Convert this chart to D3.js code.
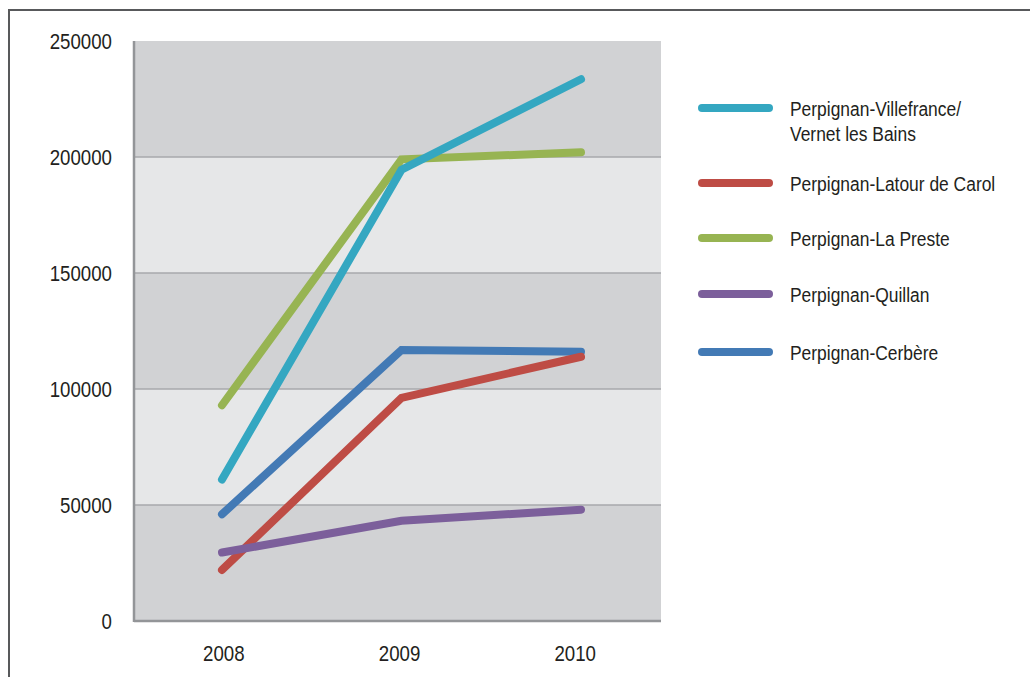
<!DOCTYPE html>
<html><head><meta charset="utf-8">
<script src="https://cdn.jsdelivr.net/npm/d3@7"></script>
<style>
html,body{margin:0;padding:0;background:#fff;}
svg{display:block;}
text{font-family:"Liberation Sans",Arial,sans-serif;fill:#231f20;}
</style></head>
<body>
<svg id="chart" width="1030" height="677"></svg>
<script>
const years = ["2008", "2009", "2010"];
const seriesNames = [
  "Perpignan-Villefrance/\nVernet les Bains",
  "Perpignan-Latour de Carol",
  "Perpignan-La Preste",
  "Perpignan-Quillan",
  "Perpignan-Cerbère"
];
const villefrance = [61000, 194500, 233500];
const latour = [22000, 96200, 113900];
const laPreste = [93000, 199000, 202000];
const quillan = [29500, 43200, 48000];
const cerbere = [46000, 116800, 116100];
const seriesValues = [villefrance, latour, laPreste, quillan, cerbere];
const seriesColors = ["#34a7c1", "#be4c45", "#97b452", "#7c5f9b", "#437ab5"];
const drawOrder = [4, 2, 1, 3, 0];
const yTicks = [0, 50000, 100000, 150000, 200000, 250000];

const NARROW = 0.83;
const svg = d3.select("#chart");

// outer frame (only top and left edges visible)
svg.append("rect").attr("x", 9).attr("y", 10).attr("width", 1100).attr("height", 700)
  .attr("fill", "none").attr("stroke", "#58595b").attr("stroke-width", 2);

const plot = {left: 134, right: 661, top: 41, bottom: 621};
const y = d3.scaleLinear().domain([0, 250000]).range([plot.bottom, plot.top]);
const x = d3.scalePoint().domain(years).range([222, 581]);
const xBand = d3.scaleBand().domain(years).range([plot.left, plot.right]);

// alternating bands
const bands = d3.pairs(yTicks);
svg.append("g").selectAll("rect").data(bands).join("rect")
  .attr("x", plot.left).attr("width", plot.right - plot.left)
  .attr("y", d => y(d[1])).attr("height", d => y(d[0]) - y(d[1]))
  .attr("fill", (d, i) => i % 2 === 0 ? "#d1d2d4" : "#e6e7e8");

// gridlines
svg.append("g").selectAll("line").data(yTicks.filter(t => t > 0 && t < 250000)).join("line")
  .attr("x1", plot.left).attr("x2", plot.right)
  .attr("y1", d => y(d)).attr("y2", d => y(d))
  .attr("stroke", "#a7a9ac").attr("stroke-width", 1.5);

// axes lines
svg.append("line").attr("x1", plot.left).attr("x2", plot.left).attr("y1", plot.top).attr("y2", plot.bottom + 1)
  .attr("stroke", "#939598").attr("stroke-width", 2.5);
svg.append("line").attr("x1", plot.left).attr("x2", plot.right).attr("y1", plot.bottom).attr("y2", plot.bottom)
  .attr("stroke", "#939598").attr("stroke-width", 2.5);

// y tick labels
svg.append("g").selectAll("text").data(yTicks).join("text")
  .attr("transform", d => `translate(112,${y(d) + 8}) scale(${NARROW},1)`)
  .attr("text-anchor", "end").attr("font-size", 22.5)
  .text(d => d);

// x labels
svg.append("g").selectAll("text").data(years).join("text")
  .attr("transform", d => `translate(${xBand(d) + xBand.bandwidth() / 2 + 2},661) scale(${NARROW},1)`)
  .attr("text-anchor", "middle").attr("font-size", 22.5)
  .text(d => d);

// lines
const line = d3.line().x((d, i) => x(years[i])).y(d => y(d));
svg.append("g").selectAll("path").data(drawOrder).join("path")
  .attr("d", k => line(seriesValues[k]))
  .attr("fill", "none")
  .attr("stroke", k => seriesColors[k])
  .attr("stroke-width", 8)
  .attr("stroke-linecap", "round")
  .attr("stroke-linejoin", "miter");

// legend
const legendY = [108, 183, 238, 294, 352];
const lg = svg.append("g");
seriesNames.forEach((name, i) => {
  lg.append("line").attr("x1", 702).attr("x2", 769).attr("y1", legendY[i]).attr("y2", legendY[i])
    .attr("stroke", seriesColors[i]).attr("stroke-width", 8).attr("stroke-linecap", "round");
  const t = lg.append("text")
    .attr("transform", `translate(790,${legendY[i] + 8}) scale(${NARROW},1)`)
    .attr("font-size", 21);
  name.split("\n").forEach((part, j) => {
    t.append("tspan").attr("x", 0).attr("dy", j === 0 ? 0 : 25.5).text(part);
  });
});
</script>
</body></html>
